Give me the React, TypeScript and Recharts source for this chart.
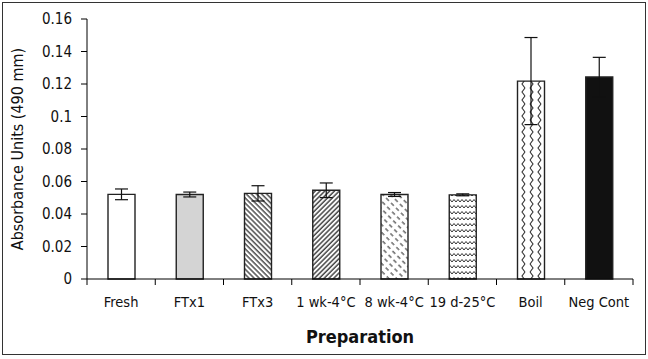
import { BarChart, Bar, XAxis, YAxis, ErrorBar, Cell } from "recharts";

const categories = ["Fresh", "FTx1", "FTx3", "1 wk-4°C", "8 wk-4°C", "19 d-25°C", "Boil", "Neg Cont"];
const means = [0.0521, 0.052, 0.0527, 0.0546, 0.052, 0.0518, 0.1218, 0.1243];
const errors = [0.0033, 0.0015, 0.0047, 0.0045, 0.0012, 0.0006, 0.0268, 0.0121];
const yTicks = [0, 0.02, 0.04, 0.06, 0.08, 0.1, 0.12, 0.14, 0.16];

const fills = ["#ffffff", "#d4d4d4", "url(#pFTx3)", "url(#p1wk)", "url(#p8wk)", "url(#p19d)", "url(#pBoil)", "#111111"];

const data = categories.map((name, i) => ({ name, value: means[i], err: errors[i] }));

const FONT = "'Liberation Sans Narrow', 'Arial Narrow', 'DejaVu Sans Condensed', sans-serif";

const CatTick = (props: any) => {
  const { x, y, payload, index, visibleTicksCount } = props;
  const half = payload.offset ?? 0;
  return (
    <g>
      <line x1={x - half} x2={x - half} y1={y - 6} y2={y} stroke="#000" />
      {index === visibleTicksCount - 1 && (
        <line x1={x + half} x2={x + half} y1={y - 6} y2={y} stroke="#000" />
      )}
      <text x={x} y={y + 22} textAnchor="middle" fontSize={14.5} fill="#111" fontFamily={FONT}>
        {payload.value}
      </text>
    </g>
  );
};

export default function App() {
  return (
    <div style={{ position: "absolute", left: 0, top: 0, width: 648, height: 359, background: "#fff" }}>
      <div
        style={{
          position: "absolute",
          left: 2,
          top: 2,
          width: 642,
          height: 351,
          border: "1px solid #333",
        }}
      />
      <BarChart
        width={648}
        height={359}
        data={data}
        margin={{ top: 19, right: 15, bottom: 0, left: 0 }}
        style={{ position: "absolute", left: 0, top: 0, fontFamily: FONT }}
      >
        <defs>
          <pattern id="pFTx3" patternUnits="userSpaceOnUse" width={3.6} height={3.6} patternTransform="rotate(-45)">
            <rect width={3.6} height={3.6} fill="#fff" />
            <line x1={1} y1={0} x2={1} y2={3.6} stroke="#333" strokeWidth={1.3} />
          </pattern>
          <pattern id="p1wk" patternUnits="userSpaceOnUse" width={3.4} height={3.4} patternTransform="rotate(45)">
            <rect width={3.4} height={3.4} fill="#fff" />
            <line x1={1} y1={0} x2={1} y2={3.4} stroke="#444" strokeWidth={1.5} />
          </pattern>
          <pattern id="p8wk" patternUnits="userSpaceOnUse" width={5.5} height={7} patternTransform="rotate(-45)">
            <rect width={5.5} height={7} fill="#fff" />
            <line x1={1} y1={0} x2={1} y2={4} stroke="#333" strokeWidth={1.1} />
          </pattern>
          <pattern id="p19d" patternUnits="userSpaceOnUse" width={4} height={6}>
            <rect width={4} height={6} fill="#fff" />
            <path d="M0 4 L2 1.5 L4 4" fill="none" stroke="#333" strokeWidth={1} />
          </pattern>
          <pattern id="pBoil" patternUnits="userSpaceOnUse" width={16} height={8}>
            <rect width={16} height={8} fill="#fff" />
            <path d="M2 0 L5 4 L2 8" fill="none" stroke="#333" strokeWidth={1.1} />
            <path d="M13 0 L10 4 L13 8" fill="none" stroke="#333" strokeWidth={1.1} />
          </pattern>
        </defs>
        <XAxis
          dataKey="name"
          height={80}
          axisLine={{ stroke: "#000" }}
          tickLine={false}
          tickSize={6}
          tickMargin={0}
          interval={0}
          tick={<CatTick />}
          label={{
            value: "Preparation",
            position: "insideBottom",
            offset: 16,
            fontSize: 18,
            fontWeight: "bold",
            fill: "#111",
            fontFamily: FONT,
          }}
        />
        <XAxis xAxisId="top" dataKey="name" orientation="top" height={0} tick={false} tickLine={false} axisLine={{ stroke: "#000" }} />
        <YAxis
          width={87}
          domain={[0, 0.16]}
          ticks={yTicks}
          axisLine={{ stroke: "#000" }}
          tickLine={{ stroke: "#000" }}
          tickSize={6}
          tickMargin={9}
          tick={{ fontSize: 15, fill: "#111", fontFamily: FONT }}
          label={{
            value: "Absorbance Units (490 mm)",
            angle: -90,
            position: "insideLeft",
            offset: 17,
            fontSize: 16,
            fill: "#111",
            fontFamily: FONT,
            style: { textAnchor: "middle" },
          }}
        />
        <YAxis yAxisId="r" orientation="right" width={0} domain={[0, 0.16]} tick={false} tickLine={false} axisLine={{ stroke: "#000" }} />
        <Bar dataKey="value" barSize={27} stroke="#222" strokeWidth={1.4} isAnimationActive={false}>
          {data.map((d, i) => (
            <Cell key={d.name} fill={fills[i]} />
          ))}
          <ErrorBar dataKey="err" width={6.5} stroke="#111" strokeWidth={1.2} isAnimationActive={false} />
        </Bar>
      </BarChart>
    </div>
  );
}
